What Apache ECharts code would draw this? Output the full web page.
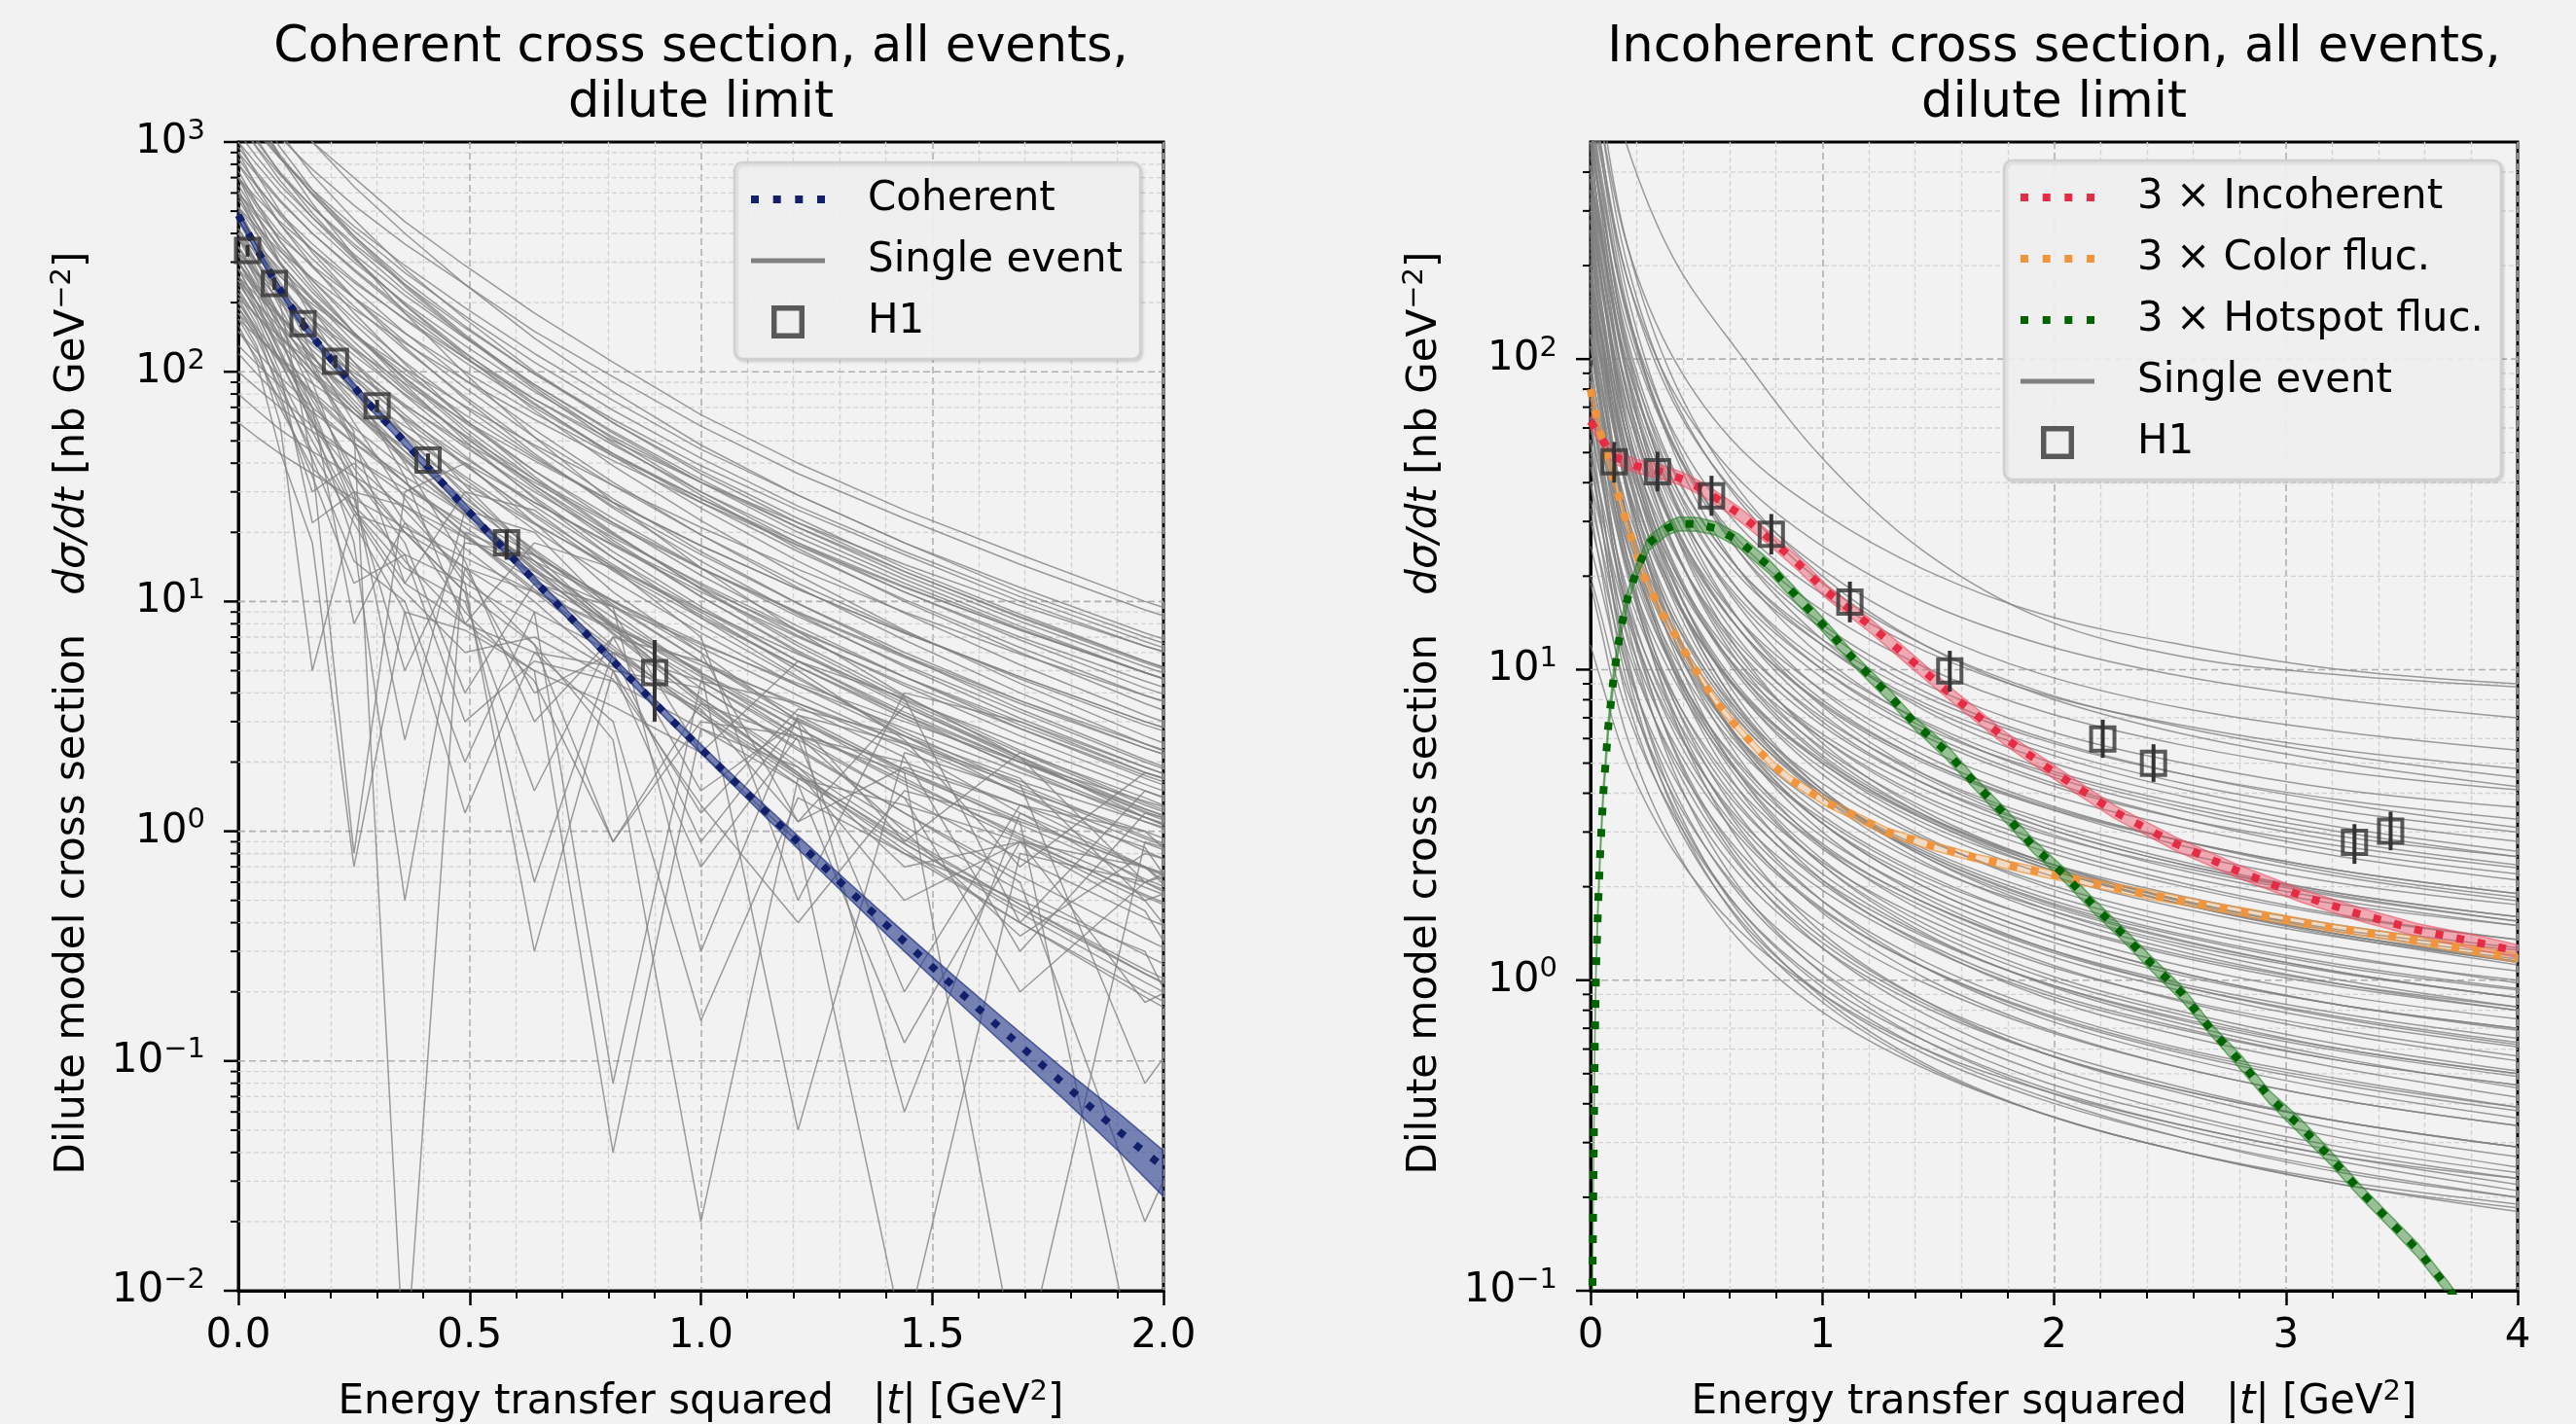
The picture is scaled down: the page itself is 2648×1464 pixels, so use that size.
<!DOCTYPE html>
<html>
<head>
<meta charset="utf-8">
<script src="https://cdn.jsdelivr.net/npm/echarts@6.0.0/dist/echarts.min.js"></script>
<style>
  html, body { margin: 0; padding: 0; background: #f2f2f2; }
  #chart { width: 2648px; height: 1464px; }
</style>
</head>
<body>
<div id="chart"></div>
<script>
// |t| grid of the single-event curves, left panel
const tLeft = [0, 0.04, 0.09, 0.16, 0.25, 0.36, 0.49, 0.64, 0.81, 1.0, 1.21, 1.44, 1.69, 1.96, 2.25];
// single events, coherent (one row per event)
const singleLeft = [
  [2500,1900,1450,1000,700,450,290,180,110,65,40,25,16,10,6.5],
  [1800,1400,1050,760,530,360,240,150,95,58,36,23,14.5,9.2,6],
  [3000,2100,1500,1000,640,400,240,140,82,48,29,18,11,7,4.5],
  [1400,1100,850,620,430,290,190,120,75,46,29,18,11.5,7.3,4.7],
  [2200,1600,1100,720,460,280,170,100,60,36,22,13.5,8.5,5.4,3.5],
  [1200,950,720,520,360,240,155,98,62,39,25,16,10,6.4,4.2],
  [1600,1200,860,590,390,250,158,98,60,37,23,14,8.8,5.5,3.5],
  [1000,800,610,440,300,200,130,82,52,33,21,13.5,8.6,5.5,3.6],
  [2000,1400,950,620,390,240,145,86,51,30,18,11,6.8,4.2,2.7],
  [900,720,550,400,280,185,120,76,48,30,19,12,7.6,4.9,3.2],
  [1300,1000,740,520,350,225,142,88,54,33,20,12.5,7.8,4.9,3.1],
  [700,570,450,340,245,170,115,76,50,33,22,14.5,9.6,6.4,4.3],
  [800,600,440,310,210,135,85,52,32,19.5,12,7.4,4.6,2.9,1.9],
  [600,470,350,250,170,110,70,43,26,16,9.8,6,3.7,2.3,1.5],
  [1000,720,500,330,210,128,76,44,25.5,15,8.8,5.2,3.1,1.9,1.2],
  [450,360,280,205,145,98,65,42,27,17.5,11.3,7.3,4.7,3.0,2.0],
  [700,520,370,250,162,102,62,37,22,13,7.8,4.7,2.8,1.7,1.05],
  [520,400,295,210,143,94,60,37,23,14,8.6,5.3,3.3,2.0,1.25],
  [380,300,230,168,118,80,53,34,22,14,9,5.8,3.7,2.4,1.55],
  [900,640,440,290,180,108,62,35,20,11.3,6.4,3.7,2.2,1.3,0.8],
  [330,265,205,150,106,72,47,30,19,12,7.5,4.7,2.9,1.8,1.15],
  [650,480,340,230,148,92,55,32,18.5,10.5,6,3.5,2.05,1.2,0.72],
  [280,225,175,130,92,63,42,27,17.5,11,7,4.4,2.8,1.75,1.1],
  [480,370,270,190,128,83,52,32,19.5,11.8,7.1,4.3,2.6,1.6,1.0],
  [420,320,235,165,110,70,43,26,15.5,9.2,5.5,3.3,2.0,1.22,0.75],
  [560,420,300,205,135,85,52,31,18,10.5,6.1,3.6,2.1,1.25,0.76],
  [350,270,200,142,96,62,39,24,14.5,8.7,5.2,3.1,1.9,1.15,0.7],
  [250,200,155,115,80,54,35,22,13.8,8.5,5.2,3.2,2.0,1.25,0.8],
  [750,540,370,240,148,88,50,28,15.5,8.5,4.7,2.6,1.45,0.82,0.47],
  [300,235,175,124,84,54,34,20.5,12.3,7.3,4.3,2.6,1.55,0.93,0.56],
  [400,300,210,140,88,52,30,16.5,9,4.8,2.6,1.4,0.76,0.42,0.24],
  [220,175,133,96,66,43,27,16,9.5,5.5,3.2,1.85,1.07,0.62,0.36],
  [500,360,245,157,95,54,29,15,7.6,3.8,1.9,0.95,0.48,0.24,0.12],
  [180,145,112,82,57,38,24,14.5,8.5,4.9,2.8,1.6,0.92,0.53,0.3],
  [300,225,160,108,69,42,24.5,13.6,7.3,3.8,2.0,1.05,0.55,0.29,0.15],
  [150,122,95,70,49,33,21,13,7.9,4.7,2.8,1.65,0.97,0.57,0.34],
  [350,255,177,116,72,42,23.5,12.5,6.4,3.2,1.6,0.8,0.4,0.2,0.1],
  [260,200,145,100,66,41,24.5,14,7.8,4.2,2.25,1.2,0.64,0.34,0.18],
  [120,98,77,58,42,29,19,12.3,7.8,4.9,3.0,1.85,1.13,0.69,0.42],
  [200,155,114,80,53,33,19.5,11,6,3.2,1.7,0.88,0.46,0.24,0.125],
  [80,68,56,45,35,26,19,13.5,9.5,6.5,4.4,3,2,1.35,0.9],
  [60,52,44,36,28,21,15.5,11,7.7,5.3,3.6,2.45,1.65,1.1,0.74],
  [1500,1150,850,600,410,270,175,110,68,42,26,16.5,10.5,6.7,4.3],
  [1100,860,650,470,325,215,140,88,55,34,21,13,8.2,5.2,3.3],
  [950,740,560,400,275,180,115,72,44,27,16.5,10.2,6.3,3.9,2.5],
  [1700,1250,880,590,380,235,142,84,49,29,17,10,6,3.6,2.2],
  [800,640,490,360,250,168,110,70,44,28,17.5,11,7,4.5,2.9],
  [1250,940,680,470,310,196,121,73,43,25.5,15,8.9,5.3,3.2,2],
  [600,490,385,290,210,147,100,66,43,28,18,11.6,7.5,4.9,3.2],
  [1400,1030,730,490,315,195,117,68,39,22.5,13,7.5,4.4,2.6,1.55],
  [520,425,335,255,187,133,92,62,41,27,17.6,11.5,7.5,4.9,3.2],
  [850,650,480,340,230,148,92,56,33,19.5,11.5,6.8,4,2.4,1.45],
  [400,330,260,197,145,103,71,48,32,21,13.8,9,5.9,3.9,2.6],
  [700,540,400,285,193,125,78,47,28,16.5,9.8,5.8,3.4,2.05,1.25],
  [1900,1300,860,540,320,180,98,52,27,14,7.4,3.9,2.1,1.15,0.65],
  [330,272,218,168,125,89,61,41,27,17.5,11.3,7.3,4.7,3.0,1.95],
  [580,440,320,222,148,94,57,34,19.7,11.4,6.6,3.85,2.25,1.33,0.8],
  [260,215,172,133,99,71,49,33,21.5,13.9,8.9,5.7,3.6,2.3,1.46],
  [460,355,262,185,124,79,48,28.5,16.5,9.5,5.5,3.2,1.87,1.1,0.66],
  [210,175,141,109,81,58,40,27,17.7,11.5,7.4,4.7,3.0,1.9,1.2],
  [380,295,218,153,102,65,39.5,23.5,13.6,7.9,4.6,2.7,1.6,0.95,0.57],
  [170,142,115,89,66,47,32.5,21.7,14.2,9.2,5.9,3.75,2.4,1.5,0.95],
  [620,440,295,185,110,61,32,16,7.8,3.7,1.75,0.83,0.4,0.19,0.09],
  [240,188,141,101,69,45,28,16.8,9.7,5.5,3.05,1.7,0.94,0.52,0.29],
  [130,108,87,67,49,35,24,15.8,10.1,6.3,3.9,2.4,1.46,0.89,0.54],
  [320,240,172,117,75,45,25.5,13.8,7.2,3.6,1.8,0.89,0.44,0.22,0.11],
  [100,85,70,55,42,31,22,15,10,6.6,4.3,2.8,1.8,1.15,0.74],
  [190,148,110,78,52,33,19.8,11.3,6.2,3.3,1.75,0.92,0.48,0.25,0.13],
  [300,230,160,90,30,2.5,25,20,9,2.2,5.5,3.8,0.4,1.5,0.9],
  [500,350,200,40,0.8,30,40,22,11,6,1.1,3.5,2.1,0.6,1.1],
  [250,180,110,60,35,18,4,12,9.5,0.3,3.2,2.4,1.6,0.08,0.5],
  [180,130,60,5,24,20,11,0.6,6,4.5,2.5,0.2,1.3,1.0,0.3],
  [400,280,170,100,55,0.004,20,15,8,5,0.05,2.2,1.5,1.0,0.6],
  [220,160,90,42,15,10,2,9,6,0.9,3.1,1.8,0.004,0.9,0.6],
  [600,400,230,120,60,28,12,0.3,5,4.2,2.3,1.2,0.6,0.02,0.4],
  [160,110,45,18,0.7,9,7.5,5,0.04,2.8,1.9,0.7,0.9,0.45,0.05],
  [350,250,150,55,25,12,8,6,3,0.15,1.4,0.8,0.5,0.3,0.02],
  [280,200,120,70,8,22,14,4,6,3.5,1.8,0.5,0.9,0.18,0.35],
  [450,330,220,140,80,40,15,3,7,1.5,3,0.06,1.2,0.7,0.4],
  [200,150,80,30,40,25,13,6.5,0.9,3.6,2.5,1.4,0.2,0.6,0.3],
  [420,300,190,110,50,12,30,25,14,7,0.5,4,3,1.8,1.2],
  [260,190,120,65,28,5,18,16,10,6,3,0.9,2.2,1.4,0.8],
  [330,230,140,70,25,14,10,1.5,7,5.5,3.5,2.1,0.3,1.2,0.9],
  [150,115,75,35,12,16,12,8,5,1.2,3.4,2.6,1.7,0.5,0.8],
  [700,480,300,170,85,35,8,18,14,9,5,2.5,0.7,1.8,1.2],
  [230,170,100,22,30,26,17,10,5,0.7,2.6,2,1.3,0.85,0.12],
  [380,270,160,80,35,20,14,9,0.08,4.5,3.6,2.3,1.2,0.6,0.9],
  [190,140,85,45,22,9,1.2,6,5.2,3.4,1.1,1.9,1.3,0.7,0.2],
  [280,200,125,62,18,0.5,14,11,7.5,4.5,2.6,1.0,0.35,0.8,0.55],
  [520,360,210,105,48,22,9,4.5,0.9,3,2.6,1.8,1.1,0.003,0.5],
  [210,150,95,50,24,11,6,7,4.6,1.3,0.4,1.5,1.1,0.7,0.25],
  [300,215,135,75,38,20,11,6.5,2.5,0.02,1.7,1.3,0.9,0.5,0.09],
  [170,125,70,38,26,16,3,5.5,4.5,2.8,1.6,0.12,0.9,0.7,0.45],
  [250,180,112,60,30,15,8,5,3.5,2.2,0.9,0.006,0.8,0.6,0.35]
];

// |t| grid of the single-event curves, right panel
const tRight = [0, 0.04, 0.16, 0.36, 0.64, 1.0, 1.44, 1.96, 2.56, 3.24, 4.0];
const singleRight = [
  [1800,1100,480,210,105,48,24,14.5,11,9.6,8.8],
  [900,600,230,100,52,32,21,15,12,10,9],
  [700,460,180,78,41,25,16.5,12,9.5,8,7],
  [800,500,180,72,36,21,13.5,9.6,7.5,6.3,5.5],
  [600,380,140,58,29,17.5,11.5,8.3,6.6,5.5,4.8],
  [1000,600,200,75,35,19,12,8.4,6.5,5.3,4.5],
  [500,330,125,52,26,15.5,10.2,7.3,5.7,4.7,4.1],
  [450,290,105,43,21,12.5,8.2,5.9,4.6,3.8,3.3],
  [700,420,140,53,25,14,9,6.4,5,4.1,3.6],
  [380,250,95,40,20,12,7.8,5.6,4.3,3.5,3.0],
  [550,340,115,44,21,12,7.6,5.4,4.1,3.3,2.8],
  [320,210,80,34,17,10,6.5,4.7,3.6,2.9,2.5],
  [900,520,160,56,24,12.5,7.4,5.1,3.9,3.1,2.6],
  [420,260,90,35,16.5,9.4,6.1,4.3,3.3,2.7,2.3],
  [260,175,68,29,14.5,8.6,5.6,4.0,3.1,2.5,2.1],
  [600,350,110,40,18,10,6.3,4.4,3.3,2.6,2.2],
  [350,220,76,29,13.5,7.7,5,3.6,2.8,2.25,1.9],
  [220,145,56,24,12,7,4.6,3.3,2.55,2.05,1.75],
  [480,280,88,32,14.5,8,5.1,3.6,2.7,2.15,1.8],
  [300,190,64,24.5,11.5,6.6,4.3,3.1,2.35,1.9,1.6],
  [180,120,47,20,10,6,3.9,2.8,2.15,1.75,1.5],
  [700,380,105,35,14.5,7.6,4.6,3.2,2.4,1.9,1.6],
  [250,160,54,21,9.8,5.6,3.6,2.6,2.0,1.6,1.35],
  [400,230,70,25,11,6,3.8,2.7,2.05,1.62,1.35],
  [150,100,39,17,8.5,5,3.3,2.35,1.8,1.45,1.25],
  [200,128,44,17.5,8.4,4.8,3.1,2.2,1.7,1.37,1.15],
  [330,195,60,21.5,9.5,5.2,3.3,2.3,1.75,1.4,1.15],
  [120,82,33,14.5,7.3,4.3,2.85,2.05,1.57,1.27,1.07],
  [500,270,75,25,10.5,5.5,3.4,2.35,1.75,1.38,1.12],
  [170,108,37,14.5,6.9,3.9,2.55,1.8,1.38,1.1,0.93],
  [260,150,46,16.5,7.3,4.0,2.5,1.75,1.33,1.06,0.88],
  [95,66,27,12,6,3.6,2.35,1.7,1.3,1.05,0.88],
  [140,90,31,12.5,6,3.4,2.2,1.55,1.18,0.95,0.8],
  [380,200,55,18,7.5,3.9,2.4,1.65,1.23,0.97,0.8],
  [210,125,38,13.5,6,3.2,2.0,1.4,1.05,0.83,0.7],
  [80,56,23,10,5,2.9,1.9,1.35,1.03,0.83,0.7],
  [120,76,26,10.3,4.9,2.75,1.78,1.25,0.95,0.76,0.63],
  [300,160,44,14,5.8,3.0,1.85,1.27,0.95,0.75,0.62],
  [60,43,18,8.2,4.1,2.4,1.58,1.12,0.86,0.69,0.57],
  [170,100,30,10.5,4.6,2.45,1.52,1.05,0.79,0.62,0.51],
  [100,63,21,8.3,3.9,2.2,1.4,0.98,0.74,0.59,0.49],
  [45,33,14.5,6.6,3.3,1.95,1.28,0.9,0.69,0.55,0.46],
  [240,130,36,11.5,4.6,2.35,1.42,0.97,0.72,0.56,0.45],
  [75,49,17,6.8,3.2,1.8,1.15,0.8,0.6,0.48,0.39],
  [130,76,23,7.9,3.4,1.8,1.1,0.75,0.56,0.44,0.36],
  [35,26,11.5,5.2,2.6,1.5,0.98,0.69,0.52,0.41,0.34],
  [55,36,12.5,5,2.35,1.32,0.84,0.58,0.44,0.35,0.29],
  [90,53,16,5.5,2.4,1.27,0.78,0.53,0.4,0.31,0.25],
  [25,19,8.5,3.9,1.95,1.12,0.72,0.5,0.37,0.29,0.24],
  [40,26,9,3.6,1.7,0.95,0.6,0.42,0.31,0.24,0.2],
  [65,37,11,3.8,1.65,0.88,0.54,0.37,0.28,0.22,0.18],
  [12,9.5,5,2.6,1.45,0.9,0.6,0.44,0.34,0.27,0.23],
  [1200,700,230,85,38,20,12,8.2,6.2,5,4.2],
  [650,400,135,52,24,13.5,8.5,6,4.6,3.7,3.1],
  [400,260,95,38,18,10.5,6.8,4.8,3.7,3.0,2.5],
  [850,480,145,50,21,11,6.7,4.6,3.5,2.8,2.35],
  [280,185,70,28,13.5,7.8,5.1,3.65,2.8,2.25,1.9],
  [550,320,100,36,16,8.5,5.3,3.7,2.8,2.2,1.85],
  [190,128,50,21,10.5,6.2,4.1,2.95,2.3,1.85,1.55],
  [420,245,77,28,12.5,6.8,4.3,3.0,2.25,1.8,1.5],
  [160,108,42,17.5,8.6,5.1,3.35,2.4,1.86,1.5,1.27],
  [320,190,60,22,9.8,5.3,3.4,2.4,1.8,1.43,1.2],
  [230,145,49,19,8.8,5.0,3.2,2.3,1.75,1.4,1.17],
  [110,76,31,13.5,6.8,4.0,2.65,1.9,1.46,1.18,1.0],
  [600,320,88,28,11.5,5.8,3.5,2.4,1.78,1.4,1.14],
  [180,113,39,15.2,7.1,4.0,2.6,1.84,1.4,1.12,0.94],
  [280,165,50,17.5,7.6,4.1,2.55,1.78,1.34,1.06,0.88],
  [85,60,25,11,5.5,3.3,2.15,1.56,1.2,0.97,0.82],
  [135,86,30,12,5.7,3.2,2.08,1.46,1.11,0.89,0.75],
  [420,220,60,19.5,8,4.1,2.5,1.7,1.27,1.0,0.82],
  [200,120,37,13.2,5.9,3.2,2.0,1.4,1.05,0.83,0.69],
  [70,50,21,9.3,4.6,2.7,1.78,1.27,0.97,0.78,0.65],
  [110,71,25,9.9,4.7,2.65,1.72,1.21,0.92,0.73,0.61],
  [260,140,39,12.5,5.2,2.7,1.66,1.14,0.85,0.67,0.55],
  [155,92,28,10,4.4,2.35,1.47,1.02,0.77,0.6,0.5],
  [50,37,16,7.2,3.6,2.1,1.38,0.98,0.75,0.6,0.5],
  [90,58,20,7.9,3.7,2.05,1.32,0.92,0.7,0.55,0.46],
  [190,105,30,9.8,4.1,2.1,1.3,0.88,0.66,0.52,0.42],
  [65,43,15.5,6.3,3,1.7,1.1,0.77,0.58,0.46,0.38],
  [120,70,21,7.3,3.1,1.65,1.02,0.7,0.52,0.41,0.34],
  [40,30,13,5.8,2.9,1.68,1.1,0.78,0.59,0.47,0.39],
  [75,46,15,5.6,2.5,1.37,0.86,0.6,0.45,0.35,0.29],
  [30,22.5,10,4.5,2.2,1.27,0.82,0.58,0.44,0.35,0.29],
  [150,80,22,7,2.8,1.42,0.86,0.58,0.43,0.33,0.27],
  [48,31,10.5,4.1,1.9,1.06,0.68,0.47,0.36,0.28,0.23],
  [20,15.5,7.2,3.4,1.7,0.98,0.64,0.45,0.34,0.27,0.22],
  [85,48,14,4.7,2.0,1.05,0.64,0.44,0.33,0.26,0.21],
  [33,22,7.9,3.3,1.58,0.9,0.58,0.41,0.31,0.245,0.2],
  [19,14,6,2.7,1.35,0.79,0.52,0.37,0.28,0.225,0.19],
  [55,32,9.8,3.5,1.55,0.85,0.53,0.37,0.28,0.22,0.185],
  [350,190,55,19,8.5,4.6,2.9,2.0,1.5,1.2,0.98],
  [500,280,85,30,13.5,7.2,4.5,3.1,2.35,1.87,1.55]
];

// coherent average with its band
const tCoherent = [0,0.026,0.083,0.14,0.204,0.27,0.344,0.434,0.536,0.663,0.765,0.867,0.931,1.033,1.122,1.212,1.314,1.416,1.556,1.658,1.785,1.9,2.0];
const coherent = [480,385,239,160,111,77,53.5,34,20.4,11.05,6.81,4.22,3.13,1.97,1.32,0.888,0.568,0.366,0.203,0.133,0.0793,0.0501,0.0345];
const coherentLow = [461,370,230,154,107,74,51.4,32.6,19.6,10.6,6.54,4.05,3.0,1.88,1.25,0.83,0.525,0.333,0.181,0.117,0.068,0.041,0.0257];
const coherentHigh = [499,400,248,166,115,80,55.6,35.4,21.2,11.5,7.08,4.39,3.26,2.06,1.39,0.945,0.612,0.4,0.226,0.151,0.092,0.06,0.0407];

// H1 coherent data
const tH1Coh = [0.02,0.078,0.14,0.21,0.30,0.41,0.58,0.90];
const h1Coh = [337,242,162,111,71,41.3,18,4.9];
const h1CohLow = [317,227,152,104,66.5,38.5,15.2,3.0];
const h1CohHigh = [357,257,172,118,75.5,44.1,20.4,6.8];

// 3 x incoherent
const tIncoh = [0,0.05,0.1,0.2,0.3,0.4,0.5,0.64,0.77,0.9,1.02,1.12,1.21,1.36,1.57,1.79,2.02,2.26,2.52,2.79,3.06,3.32,3.57,3.83,4.0];
const incoh = [63,55,48.5,45.2,43.5,41,37.5,31.8,26.5,21.8,17.8,15.6,13.8,11.1,8.15,6.0,4.57,3.49,2.76,2.25,1.88,1.63,1.45,1.32,1.24];
const incohLow = [59.9,52.3,46.1,42.9,41.3,39,35.6,30.2,25.2,20.7,16.9,14.8,13.1,10.5,7.74,5.7,4.34,3.32,2.62,2.14,1.79,1.55,1.38,1.25,1.18];
const incohHigh = [66.2,57.8,50.9,47.5,45.7,43.1,39.4,33.4,27.8,22.9,18.7,16.4,14.5,11.7,8.56,6.3,4.8,3.66,2.9,2.36,1.97,1.71,1.52,1.39,1.3];

// 3 x color fluctuations
const tColor = [0,0.007,0.028,0.049,0.077,0.105,0.133,0.161,0.189,0.23,0.306,0.383,0.434,0.536,0.612,0.714,0.791,0.868,1.02,1.12,1.28,1.48,1.66,1.94,2.17,2.42,2.68,2.93,3.19,3.44,3.70,4.0];
const colorFluc = [80,75,64,55,47,39.5,34,29,25,20.1,15.3,12.3,10.5,8.0,6.8,5.6,4.9,4.4,3.73,3.44,3.0,2.7,2.48,2.23,2.05,1.88,1.73,1.6,1.48,1.39,1.29,1.18];
const colorLow = [77.6,72.8,62.1,53.4,45.6,38.3,33,28.1,24.3,19.5,14.8,11.9,10.2,7.76,6.6,5.43,4.75,4.27,3.62,3.34,2.91,2.62,2.41,2.16,1.99,1.82,1.68,1.55,1.44,1.35,1.25,1.14];
const colorHigh = [82.4,77.3,65.9,56.7,48.4,40.7,35,29.9,25.8,20.7,15.8,12.7,10.8,8.24,7.0,5.77,5.05,4.53,3.84,3.54,3.09,2.78,2.55,2.3,2.11,1.94,1.78,1.65,1.52,1.43,1.33,1.22];

// 3 x hotspot fluctuations
const tHot = [0.004,0.008,0.013,0.018,0.024,0.032,0.042,0.055,0.077,0.10,0.13,0.16,0.20,0.25,0.33,0.38,0.46,0.54,0.64,0.77,0.89,1.02,1.15,1.28,1.40,1.53,1.66,1.79,1.91,2.04,2.17,2.30,2.42,2.55,2.68,2.81,2.93,3.06,3.19,3.32,3.44,3.57,3.70,3.80];
const hotspot = [0.04,0.1,0.25,0.6,1.1,1.7,2.6,4.0,6.6,9.5,13.5,17,21,25.5,28.5,29.5,29.4,28.5,26,21.5,17.2,13.5,10.5,8.4,6.7,5.5,4.3,3.4,2.7,2.2,1.74,1.40,1.13,0.91,0.69,0.54,0.42,0.34,0.27,0.21,0.17,0.135,0.102,0.08];
const hotLow = [0.038,0.095,0.24,0.57,1.05,1.62,2.47,3.8,6.27,9.0,12.8,16.2,20,24.2,27.1,28,27.9,27.1,24.7,20.4,16.3,12.8,10,8.0,6.4,5.2,4.1,3.23,2.57,2.09,1.65,1.33,1.07,0.86,0.66,0.51,0.40,0.32,0.256,0.2,0.162,0.128,0.097,0.076];
const hotHigh = [0.042,0.105,0.26,0.63,1.16,1.79,2.73,4.2,6.93,10,14.2,17.9,22,26.8,29.9,31,30.9,29.9,27.3,22.6,18.1,14.2,11,8.8,7.0,5.8,4.5,3.57,2.84,2.31,1.83,1.47,1.19,0.96,0.72,0.57,0.44,0.36,0.284,0.22,0.178,0.142,0.107,0.084];

// H1 incoherent data
const tH1Inc = [0.102,0.289,0.522,0.780,1.119,1.550,2.210,2.429,3.296,3.452];
const h1Inc = [46.7,43.4,36.3,27.3,16.5,9.9,5.98,4.99,2.78,3.02];
const h1IncLow = [40.0,37.5,31.3,23.5,14.2,8.5,5.2,4.35,2.37,2.62];
const h1IncHigh = [54.1,50.3,42.1,31.7,19.2,11.5,6.9,5.75,3.18,3.49];

// y ticks
const majorYLeft = [0.01, 0.1, 1, 10, 100, 1000];
const majorYRight = [0.1, 1, 10, 100];
const minorMant = [2, 3, 4, 5, 6, 7, 8, 9];

const font = 'DejaVu Sans';
const navy = '#12206b', red = '#e62b45', orange = '#f0953d', green = '#006400';
const dotIcon = 'path://M0,0h8v8h-8z M22.7,0h8v8h-8z M45.3,0h8v8h-8z M68,0h8v8h-8z';
const lineIcon = 'path://M0,0h76v5h-76z';
const squareIcon = 'path://M0,0h28v28h-28z M4.5,4.5v19h19v-19z';

function pairs(ts, vs) { return ts.map((t, i) => [t, vs[i]]); }

function yLabel(v) {
  const l = Math.log10(v), e = Math.round(l);
  if (Math.abs(l - e) > 1e-6) return '';
  return '{b|10}{s|' + String(e).replace('-', '\u2212') + '}';
}
const yRich = {
  b: { fontSize: 42, fontFamily: font, color: '#000', lineHeight: 42 },
  s: { fontSize: 29, fontFamily: font, color: '#000', lineHeight: 29, padding: [0, 0, 22, 0] }
};

function singles(ts, rows, g, smooth) {
  return rows.map(r => ({
    type: 'line', name: 'Single event', xAxisIndex: g, yAxisIndex: g,
    data: pairs(ts, r), symbol: 'none', smooth: smooth, silent: true, z: 2,
    lineStyle: { color: 'rgba(128,128,128,0.78)', width: 1.5 }, itemStyle: { color: '#808080' }
  }));
}

function band(ts, lo, hi, g, fill, stroke) {
  return {
    type: 'custom', xAxisIndex: g, yAxisIndex: g, clip: true, silent: true, z: 3,
    data: ts.map((t, i) => [t, lo[i], hi[i]]),
    renderItem: (params, api) => {
      if (params.dataIndex !== 0) return null;
      const pts = [];
      for (let i = 0; i < ts.length; i++) pts.push(api.coord([ts[i], hi[i]]));
      for (let i = ts.length - 1; i >= 0; i--) pts.push(api.coord([ts[i], lo[i]]));
      return { type: 'polygon', shape: { points: pts }, style: { fill: fill, stroke: stroke, lineWidth: 1.5 } };
    }
  };
}

function curve(name, ts, vs, g, color, w) {
  return {
    type: 'line', name: name, xAxisIndex: g, yAxisIndex: g, data: pairs(ts, vs),
    symbol: 'none', silent: true, z: 4, itemStyle: { color: color },
    lineStyle: { color: color, width: w, type: [w, 14], cap: 'butt' }
  };
}

function errorBars(ts, lo, hi, g) {
  return {
    type: 'custom', xAxisIndex: g, yAxisIndex: g, silent: true, z: 5,
    data: ts.map((t, i) => [t, lo[i], hi[i]]),
    renderItem: (params, api) => {
      const a = api.coord([api.value(0), api.value(1)]);
      const b = api.coord([api.value(0), api.value(2)]);
      return { type: 'line', shape: { x1: a[0], y1: a[1], x2: b[0], y2: b[1] }, style: { stroke: '#333', lineWidth: 4 } };
    }
  };
}

function h1(ts, vs, g) {
  return {
    type: 'scatter', name: 'H1', xAxisIndex: g, yAxisIndex: g, data: pairs(ts, vs),
    symbol: 'rect', symbolSize: 24, silent: true, z: 6,
    itemStyle: { color: 'rgba(0,0,0,0)', borderColor: '#333', borderWidth: 4 }
  };
}

// y grid lines and ticks (major + minor) drawn through the log scale
function yGrid(majors, yMin, yMax, g) {
  const rows = [];
  majors.forEach(m => rows.push([0, m, 1]));
  majors.forEach(m => minorMant.forEach(k => { if (m * k < yMax * 0.999) rows.push([0, m * k, 0]); }));
  return {
    type: 'custom', xAxisIndex: g, yAxisIndex: g, silent: true, z: 1, clip: false,
    data: rows,
    renderItem: (params, api) => {
      const v = api.value(1), major = api.value(2) === 1;
      const p = api.coord([api.value(0), v]);
      const x0 = params.coordSys.x, x1 = x0 + params.coordSys.width;
      const children = [{
        type: 'line', shape: { x1: x0 - (major ? 15 : 8), y1: p[1], x2: x0, y2: p[1] },
        style: { stroke: '#000', lineWidth: major ? 2.5 : 2 }
      }];
      if (v > yMin * 1.001 && v < yMax * 0.999) {
        children.push({
          type: 'line', shape: { x1: x0, y1: p[1], x2: x1, y2: p[1] },
          style: major ? { stroke: '#b0b0b0', lineWidth: 1.6, lineDash: [7, 4] }
                       : { stroke: '#d2d2d2', lineWidth: 1.3, lineDash: [5, 3] }
        });
      }
      return { type: 'group', children: children };
    }
  };
}

function xAxis(g, max, interval, fmt) {
  return {
    type: 'value', gridIndex: g, min: 0, max: max, interval: interval,
    axisLine: { show: true, onZero: false, lineStyle: { color: '#000', width: 3 } },
    axisTick: { show: true, length: 15, lineStyle: { color: '#000', width: 2.5 } },
    minorTick: { show: true, splitNumber: 5, length: 8, lineStyle: { color: '#000', width: 2 } },
    splitLine: { show: true, lineStyle: { color: '#b0b0b0', width: 1.6, type: [7, 4] } },
    minorSplitLine: { show: true, lineStyle: { color: '#d2d2d2', width: 1.3, type: [5, 3] } },
    axisLabel: { fontSize: 42, fontFamily: font, color: '#000', margin: 26, formatter: fmt }
  };
}

function yAxis(g, min, max) {
  return {
    type: 'log', logBase: 10, gridIndex: g, min: min, max: max,
    axisLine: { show: true, onZero: false, lineStyle: { color: '#000', width: 3 } },
    axisTick: { show: false }, splitLine: { show: false },
    axisLabel: { margin: 34, formatter: yLabel, rich: yRich }
  };
}

function legend(left, top, items) {
  return {
    left: left, top: top, orient: 'vertical', align: 'left', z: 10,
    itemWidth: 76, itemHeight: 34, itemGap: 21, padding: [17, 18, 17, 17],
    backgroundColor: 'rgba(242,242,242,0.9)', borderColor: '#d0d0d0', borderWidth: 2.5, borderRadius: 8,
    shadowColor: 'rgba(0,0,0,0.12)', shadowBlur: 3, shadowOffsetX: 2, shadowOffsetY: 2,
    selectedMode: false,
    textStyle: { fontSize: 42, fontFamily: font, color: '#000', padding: [0, 0, 0, 39] },
    data: items
  };
}

const h1Item = { name: 'H1', icon: squareIcon, itemStyle: { color: '#333', borderWidth: 0 } };
const singleItem = { name: 'Single event', icon: lineIcon, itemStyle: { color: '#808080', borderWidth: 0 } };

const nameRich = {
  n: { fontSize: 42, fontFamily: font, fill: '#000', lineHeight: 50 },
  i: { fontSize: 42, fontFamily: font, fontStyle: 'italic', fill: '#000', lineHeight: 50 },
  s: { fontSize: 29, fontFamily: font, fill: '#000', lineHeight: 29, padding: [0, 0, 22, 0] }
};
const yName = '{n|Dilute model cross section   }{i|d\u03c3/dt}{n| [nb GeV}{s|\u22122}{n|]}';
const xName = '{n|Energy transfer squared   |}{i|t}{n|| [GeV}{s|2}{n|]}';

function label(x, y, text, rot) {
  return { type: 'text', x: x, y: y, rotation: rot, z: 20,
    style: { text: text, rich: nameRich, fill: '#000', font: '42px "DejaVu Sans"', align: 'center', verticalAlign: 'middle' } };
}
function title(x, text) {
  return { type: 'text', x: x, y: 21, z: 20,
    style: { text: text, fill: '#000', font: '51px "DejaVu Sans"', lineHeight: 57, align: 'center', verticalAlign: 'top' } };
}

const series = [].concat(
  [yGrid(majorYLeft, 0.01, 1000, 0), yGrid(majorYRight, 0.1, 500, 1)],
  singles(tLeft, singleLeft, 0, false),
  singles(tRight, singleRight, 1, 0.35),
  [
    band(tCoherent, coherentLow, coherentHigh, 0, 'rgba(40,60,140,0.62)', 'rgba(30,50,130,0.7)'),
    curve('Coherent', tCoherent, coherent, 0, navy, 7.5),
    errorBars(tH1Coh, h1CohLow, h1CohHigh, 0),
    h1(tH1Coh, h1Coh, 0),
    band(tIncoh, incohLow, incohHigh, 1, 'rgba(236,80,100,0.45)', 'rgba(236,80,100,0.6)'),
    band(tColor, colorLow, colorHigh, 1, 'rgba(240,150,60,0.25)', 'rgba(240,150,60,0.7)'),
    band(tHot, hotLow, hotHigh, 1, 'rgba(40,130,40,0.45)', 'rgba(40,130,40,0.6)'),
    curve('3 \u00d7 Color fluc.', tColor, colorFluc, 1, orange, 8),
    curve('3 \u00d7 Incoherent', tIncoh, incoh, 1, red, 8),
    curve('3 \u00d7 Hotspot fluc.', tHot, hotspot, 1, green, 8),
    errorBars(tH1Inc, h1IncLow, h1IncHigh, 1),
    h1(tH1Inc, h1Inc, 1)
  ]
);

const chart = echarts.init(document.getElementById('chart'), null, { renderer: 'canvas' });
chart.setOption({
  animation: false,
  backgroundColor: '#f2f2f2',
  textStyle: { fontFamily: font },
  grid: [
    { left: 245, top: 146, width: 951, height: 1181, show: true, backgroundColor: '#f2f2f2', borderColor: '#000', borderWidth: 3, outerBoundsMode: 'none' },
    { left: 1635, top: 146, width: 953, height: 1181, show: true, backgroundColor: '#f2f2f2', borderColor: '#000', borderWidth: 3, outerBoundsMode: 'none' }
  ],
  xAxis: [
    xAxis(0, 2, 0.5, v => v.toFixed(1)),
    xAxis(1, 4, 1, v => String(v))
  ],
  yAxis: [yAxis(0, 0.01, 1000), yAxis(1, 0.1, 500)],
  legend: [
    legend(755, 167, [
      { name: 'Coherent', icon: dotIcon, itemStyle: { color: navy, borderWidth: 0 } },
      singleItem, h1Item
    ]),
    legend(2060, 165, [
      { name: '3 \u00d7 Incoherent', icon: dotIcon, itemStyle: { color: red, borderWidth: 0 } },
      { name: '3 \u00d7 Color fluc.', icon: dotIcon, itemStyle: { color: orange, borderWidth: 0 } },
      { name: '3 \u00d7 Hotspot fluc.', icon: dotIcon, itemStyle: { color: green, borderWidth: 0 } },
      singleItem, h1Item
    ])
  ],
  graphic: [
    title(720.5, 'Coherent cross section, all events,\ndilute limit'),
    title(2111.5, 'Incoherent cross section, all events,\ndilute limit'),
    label(75, 733, yName, Math.PI / 2),
    label(1465, 733, yName, Math.PI / 2),
    label(720.5, 1442, xName, 0),
    label(2111.5, 1442, xName, 0)
  ],
  series: series
});
</script>
</body>
</html>
